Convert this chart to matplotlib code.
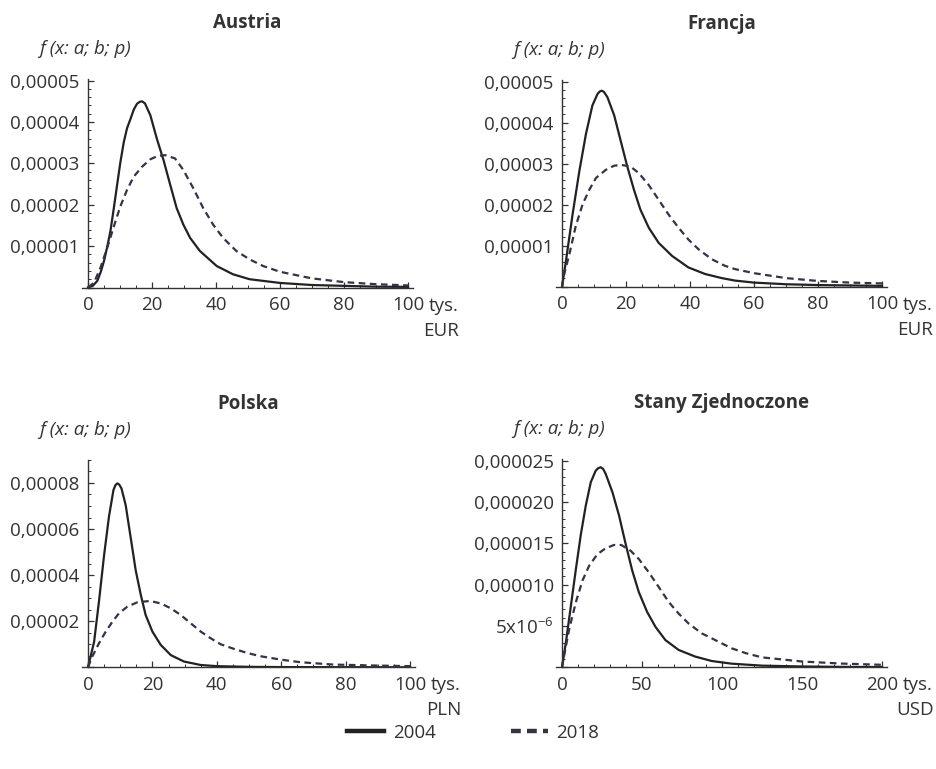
import numpy as np
import matplotlib
matplotlib.use("Agg")
import matplotlib.pyplot as plt
from matplotlib.ticker import MultipleLocator, FuncFormatter

plt.rcParams['font.family'] = ['Open Sans', 'DejaVu Sans']
plt.rcParams['mathtext.fontset'] = 'custom'
plt.rcParams['mathtext.rm'] = 'Open Sans'

# values, y in units of 1e-5 (1e-6 for USA)
at_x04 = [0, 1.5, 2.9, 4.0, 5.0, 6.0, 7.0, 8.0, 9.1, 10.1, 11.2, 12.2, 13.3, 14.3, 15.3, 16.2, 16.9, 17.8, 19.5, 21.5, 23.6, 25.7, 27.7, 29.8, 31.9, 35.0, 40.2, 45.3, 50.5, 60, 70, 80, 90, 100]
at_y04 = [0, 0.04, 0.16, 0.38, 0.64, 0.98, 1.36, 1.88, 2.48, 3.02, 3.52, 3.85, 4.08, 4.30, 4.44, 4.49, 4.50, 4.45, 4.16, 3.60, 3.08, 2.48, 1.92, 1.52, 1.20, 0.88, 0.52, 0.32, 0.20, 0.11, 0.06, 0.04, 0.02, 0.015]
at_x18 = [0, 1.9, 3.9, 6.0, 8.1, 10.1, 12.2, 14.3, 16.9, 19.5, 21.8, 24.1, 27.2, 29.8, 32.9, 36.0, 39.1, 42.2, 46.4, 50.5, 54.7, 60, 70, 80, 90, 100]
at_y18 = [0, 0.12, 0.48, 0.96, 1.48, 1.96, 2.36, 2.68, 2.92, 3.10, 3.18, 3.20, 3.12, 2.84, 2.40, 1.92, 1.52, 1.20, 0.88, 0.68, 0.52, 0.38, 0.22, 0.13, 0.08, 0.05]

fr_x04 = [0, 1.24, 3.3, 5.4, 7.5, 9.5, 11.1, 11.8, 12.4, 13.1, 14.2, 16.3, 18.3, 20.4, 22.5, 24.5, 27.1, 30.2, 34.4, 39.5, 44.7, 49.9, 54.0, 60, 70, 80, 90, 100]
fr_y04 = [0, 0.63, 1.76, 2.81, 3.73, 4.42, 4.70, 4.76, 4.78, 4.75, 4.62, 4.18, 3.57, 2.93, 2.36, 1.88, 1.44, 1.07, 0.75, 0.47, 0.31, 0.21, 0.15, 0.10, 0.06, 0.04, 0.03, 0.02]
fr_x18 = [0, 0.7, 2.3, 4.3, 6.4, 8.5, 10.6, 13.7, 16.3, 18.5, 21.4, 24.0, 27.1, 30.2, 33.3, 36.4, 39.5, 42.7, 46.8, 50.9, 54.0, 60, 70, 80, 90, 100]
fr_y18 = [0, 0.31, 0.79, 1.48, 2.00, 2.36, 2.65, 2.85, 2.95, 2.97, 2.93, 2.77, 2.48, 2.12, 1.76, 1.44, 1.15, 0.91, 0.67, 0.51, 0.43, 0.33, 0.21, 0.14, 0.10, 0.08]

pl_x04 = [0, 1.9, 3.4, 5.0, 6.5, 7.9, 8.5, 9.1, 9.7, 10.4, 11.7, 13.3, 14.8, 16.4, 17.9, 20.0, 22.6, 25.7, 29.8, 35.0, 40, 50, 60, 80, 100]
pl_y04 = [0, 1.11, 2.85, 4.87, 6.53, 7.69, 7.90, 7.98, 7.93, 7.76, 7.04, 5.59, 4.22, 3.14, 2.27, 1.55, 0.97, 0.53, 0.25, 0.10, 0.05, 0.02, 0.01, 0.005, 0]
pl_x18 = [0, 1.3, 3.4, 5.5, 7.6, 9.6, 12.2, 15.3, 19.3, 22.6, 25.7, 28.8, 31.9, 35.0, 38.1, 41.2, 45.3, 49.5, 53.6, 60, 66, 76, 88, 100]
pl_y18 = [0, 0.46, 1.04, 1.55, 1.98, 2.34, 2.63, 2.82, 2.88, 2.77, 2.56, 2.27, 1.91, 1.55, 1.26, 1.00, 0.80, 0.62, 0.48, 0.33, 0.22, 0.12, 0.08, 0.05]

us_x04 = [0, 2.5, 5.6, 8.7, 11.8, 14.9, 18.0, 21.1, 22.7, 24.2, 25.7, 27.3, 31.5, 35.6, 39.8, 43.9, 48.0, 53.2, 58.4, 64.6, 72.9, 83.2, 93.6, 106, 125, 150, 175, 200]
us_y04 = [0, 3.1, 7.5, 11.9, 16.1, 19.6, 22.4, 23.8, 24.1, 24.2, 24.0, 23.4, 21.2, 18.4, 14.9, 11.7, 9.1, 6.7, 4.9, 3.3, 2.1, 1.3, 0.76, 0.44, 0.2, 0.1, 0.05, 0.03]
us_x18 = [0, 1.4, 4.6, 8.7, 12.8, 17.0, 22.2, 27.3, 32.5, 37.0, 42.9, 48.0, 54.2, 60.5, 66.7, 72.9, 79.1, 87.4, 95.7, 106, 115, 125, 150, 175, 200]
us_y18 = [0, 1.5, 4.7, 7.9, 10.5, 12.3, 13.7, 14.4, 14.8, 14.8, 14.1, 13.1, 11.5, 9.7, 7.9, 6.5, 5.3, 4.1, 3.3, 2.3, 1.7, 1.2, 0.7, 0.45, 0.3]

titles = ["Austria", "Francja", "Polska", "Stany Zjednoczone"]
units = ["EUR", "EUR", "PLN", "USD"]
years = ["2004", "2018"]

W, H = 936, 769
col = '#333333'
fs = 13.5

# x0 px, px per unit, baseline px, top px, xlim, ylim, x major/minor, y major/minor, scale
panels = [
    (88, 3.20, 287.5, 79.0, (-1.8, 101.5), (0, 5.04e-5), 20, 5, 1e-5, 2e-6, 1e-5, at_x04, at_y04, at_x18, at_y18, 5, 100),
    (562, 3.20, 286.7, 80.0, (-1.8, 101.5), (0, 5.04e-5), 20, 5, 1e-5, 2e-6, 1e-5, fr_x04, fr_y04, fr_x18, fr_y18, 5, 100),
    (88, 3.22, 667.3, 459.9, (-1.8, 101.5), (0, 9.0e-5), 20, 5, 2e-5, 5e-6, 1e-5, pl_x04, pl_y04, pl_x18, pl_y18, 5, 100),
    (562, 1.60, 667.3, 459.0, (-3.6, 203), (0, 2.52e-5), 50, 10, 5e-6, 1e-6, 1e-6, us_x04, us_y04, us_x18, us_y18, 6, 200),
]

fig = plt.figure(figsize=(W / 100, H / 100), dpi=100)

def fmt_factory(dec):
    def f(v, pos):
        if abs(v) < 1e-12:
            return ""
        if dec == 6 and abs(v - 5e-6) < 1e-9:
            return r"5x10$^{\mathregular{-6}}$"
        return f"{v:.{dec}f}".replace('.', ',')
    return f

for i, p in enumerate(panels):
    x0, s, base, top, xl, yl, xM, xm, yM, ym, sc, x4, y4, x8, y8, dec, xend = p
    left = x0 + xl[0] * s
    width = (xl[1] - xl[0]) * s
    ax = fig.add_axes([left / W, 1 - base / H, width / W, (base - top) / H])
    ax.plot(x4, np.array(y4) * sc, color='#222222', lw=1.6, label=years[0])
    ax.plot(x8, np.array(y8) * sc, color='#33334a', lw=1.6, dashes=(3, 2), label=years[1])
    ax.set_xlim(*xl)
    ax.set_ylim(*yl)
    ax.spines['left'].set_position(('data', 0))
    ax.spines['top'].set_visible(False)
    ax.spines['right'].set_visible(False)
    for sp in ['left', 'bottom']:
        ax.spines[sp].set_color(col)
        ax.spines[sp].set_linewidth(1.0)
    ax.xaxis.set_major_locator(MultipleLocator(xM))
    ax.xaxis.set_minor_locator(MultipleLocator(xm))
    ax.yaxis.set_major_locator(MultipleLocator(yM))
    ax.yaxis.set_minor_locator(MultipleLocator(ym))
    ax.yaxis.set_major_formatter(FuncFormatter(fmt_factory(dec)))
    ax.xaxis.set_major_formatter(FuncFormatter(lambda v, pos: f"{v:.0f}"))
    ax.tick_params(which='both', direction='in', colors=col, labelcolor=col, labelsize=fs)
    ax.tick_params(which='major', length=4.5, width=0.9)
    ax.tick_params(which='minor', length=2.5, width=0.7)
    ax.tick_params(axis='x', pad=6)
    ax.tick_params(axis='y', pad=6)
    ax.patch.set_alpha(0)

    ax.annotate("tys.", xy=(xend, 0), xycoords='data', xytext=(15, -6.5),
                textcoords='offset points', ha='left', va='top', fontsize=fs,
                color=col, annotation_clip=False)
    ax.annotate(units[i], xy=(xend, 0), xycoords='data', xytext=(37, -24.5),
                textcoords='offset points', ha='right', va='top', fontsize=fs,
                color=col, annotation_clip=False)
    cx = (left + width / 2) / W
    fig.text(cx, 1 - (top - 56) / H, titles[i], ha='center', va='center',
             fontsize=fs, fontweight='bold', color=col)
    fig.text((x0 - 3) / W, 1 - (top - 30) / H, "f (x: a; b; p)", ha='center', va='center',
             fontsize=fs, style='italic', color=col)
    if i == 0:
        handles, labels = ax.get_legend_handles_labels()

leg = fig.legend(handles, labels, loc='center', bbox_to_anchor=(0.5 + 5 / W, 1 - 733 / H), ncol=2,
                 frameon=False, fontsize=fs, handlelength=2.0, columnspacing=4.0,
                 handletextpad=0.45)
for t in leg.get_texts():
    t.set_color(col)
hs = leg.legend_handles
hs[0].set_linewidth(3.2)
hs[1].set_linewidth(3.2)
hs[1].set_dashes((2.2, 1.4))

fig.savefig("out.png", dpi=100)
